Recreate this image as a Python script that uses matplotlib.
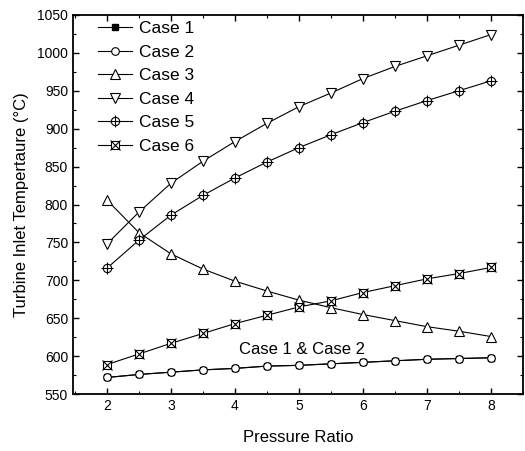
import matplotlib.pyplot as plt
from matplotlib.legend_handler import HandlerTuple
from matplotlib.ticker import MultipleLocator

plt.rcParams['font.family'] = ['Liberation Sans', 'DejaVu Sans']

# Data
pressure_ratio = [2, 2.5, 3, 3.5, 4, 4.5, 5, 5.5, 6, 6.5, 7, 7.5, 8]
case1 = [572, 576, 579, 582, 584, 587, 588, 590, 592, 594, 596, 597, 598]
case2 = [572, 576, 579, 582, 584, 587, 588, 590, 592, 594, 596, 597, 598]
case3 = [806, 763, 735, 715, 699, 686, 674, 664, 655, 647, 639, 633, 626]
case4 = [748, 790, 828, 857, 883, 907, 929, 947, 966, 982, 996, 1010, 1024]
case5 = [716, 753, 786, 812, 835, 856, 875, 892, 908, 923, 937, 950, 963]
case6 = [589, 603, 617, 630, 643, 654, 665, 673, 684, 693, 702, 709, 717]

fig = plt.figure(figsize=(5.25, 4.51), dpi=100)
ax = fig.add_axes([0.139, 0.126, 0.857, 0.841])

lw = 0.8
ms = 5.5
h1, = ax.plot(pressure_ratio, case1, color='black', lw=lw, marker='s', ms=4, mfc='black', mec='black')
h2, = ax.plot(pressure_ratio, case2, color='black', lw=lw, marker='o', ms=ms, mfc='white', mec='black', mew=0.8)
h3, = ax.plot(pressure_ratio, case3, color='black', lw=lw, marker='^', ms=ms + 1, mfc='white', mec='black', mew=0.8)
h4, = ax.plot(pressure_ratio, case4, color='black', lw=lw, marker='v', ms=ms + 1, mfc='white', mec='black', mew=0.8)
h5a, = ax.plot(pressure_ratio, case5, color='black', lw=lw, marker='o', ms=ms + 0.5, mfc='white', mec='black', mew=0.8)
h5b, = ax.plot(pressure_ratio, case5, linestyle='none', color='black', marker='+', ms=ms + 2.5, mew=0.8)
h6a, = ax.plot(pressure_ratio, case6, color='black', lw=lw, marker='s', ms=ms, mfc='white', mec='black', mew=0.8)
h6b, = ax.plot(pressure_ratio, case6, linestyle='none', color='black', marker='x', ms=ms + 2, mew=0.8)

ax.text(5.05, 609, 'Case 1 & Case 2', fontsize=12, ha='center', va='center')

ax.legend([h1, h2, h3, h4, (h5a, h5b), (h6a, h6b)],
          ['Case 1', 'Case 2', 'Case 3', 'Case 4', 'Case 5', 'Case 6'],
          handler_map={tuple: HandlerTuple(ndivide=1, pad=0)},
          loc='upper left', bbox_to_anchor=(0.02, 1.025), frameon=False,
          fontsize=12.5, handlelength=2.0, labelspacing=0.48, handletextpad=0.4)

ax.set_xlim(1.47, 8.5)
ax.set_ylim(550, 1050)
ax.xaxis.set_major_locator(MultipleLocator(1))
ax.xaxis.set_minor_locator(MultipleLocator(0.5))
ax.yaxis.set_major_locator(MultipleLocator(50))
ax.yaxis.set_minor_locator(MultipleLocator(25))
ax.tick_params(which='both', direction='in', top=True, right=True, labelsize=10)
ax.tick_params(which='major', length=4, width=1)
ax.tick_params(which='minor', length=2.5, width=0.8)
for s in ax.spines.values():
    s.set_linewidth(1.3)

ax.set_xlabel('Pressure Ratio', fontsize=12, labelpad=12)
ax.set_ylabel('Turbine Inlet Tempertaure (\u00b0C)', fontsize=12, labelpad=6)

fig.savefig('out.png', dpi=100)
